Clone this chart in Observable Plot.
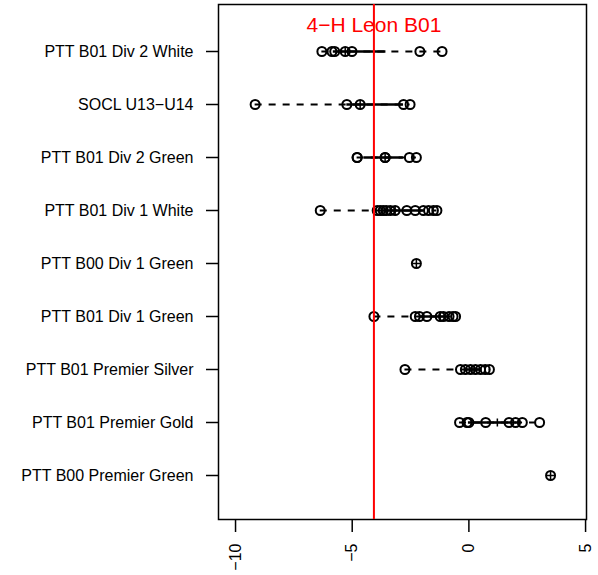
<!DOCTYPE html>
<html><head><meta charset="utf-8">
<script src="https://cdn.jsdelivr.net/npm/d3@7"></script>
<script src="https://cdn.jsdelivr.net/npm/@observablehq/plot@0.6"></script>
<style>
body{margin:0;background:#fff}
svg{font-family:"Liberation Sans",Arial,Helvetica,sans-serif}
</style>
</head><body><div id="chart"></div>
<script>
// Categories (top to bottom)
const categories = [
  "PTT B01 Div 2 White",
  "SOCL U13\u2212U14",
  "PTT B01 Div 2 Green",
  "PTT B01 Div 1 White",
  "PTT B00 Div 1 Green",
  "PTT B01 Div 1 Green",
  "PTT B01 Premier Silver",
  "PTT B01 Premier Gold",
  "PTT B00 Premier Green"
];
// Ratings per team group
const div2White = [-6.30, -5.87, -5.75, -5.30, -5.01, -2.10, -1.15];
const soclU13U14 = [-9.16, -5.23, -4.66, -2.80, -2.52];
const div2Green = [-4.79, -4.79, -3.59, -3.59, -2.55, -2.25];
const div1White = [-6.37, -3.93, -3.80, -3.67, -3.54, -3.37, -3.16, -2.66, -2.30, -1.95, -1.73, -1.52, -1.37];
const b00Div1Green = [-2.25];
const div1Green = [-4.07, -2.30, -2.12, -1.80, -1.23, -1.09, -0.85, -0.68, -0.57];
const premierSilver = [-2.74, -0.36, -0.15, 0.07, 0.28, 0.50, 0.70, 0.88];
const premierGold = [-0.40, -0.08, 0.00, 0.72, 1.72, 2.00, 2.29, 3.03];
const b00PremierGreen = [3.50];
const seriesValues = [div2White, soclU13U14, div2Green, div1White, b00Div1Green, div1Green, premierSilver, premierGold, b00PremierGreen];

const xTicks = [-10, -5, 0, 5];
const leonLabel = "4\u2212H Leon B01";
const leonRating = -4.07;

const points = categories.flatMap((c, i) => seriesValues[i].map(v => ({team: c, rating: v})));
const stats = categories.map((c, i) => {
  const v = seriesValues[i].slice().sort(d3.ascending);
  return {team: c, min: v[0], max: v[v.length - 1],
    q1: d3.quantile(v, 0.25), q3: d3.quantile(v, 0.75), median: d3.median(v)};
});

const plusSymbol = {
  draw(ctx, size) {
    const h = Math.sqrt(size / Math.PI);
    ctx.moveTo(-h, 0); ctx.lineTo(h, 0);
    ctx.moveTo(0, -h); ctx.lineTo(0, h);
  }
};

const W = 598, H = 575, mL = 218, mR = 12, mT = 4, mB = 56, tickLen = 13;
const frameW = W - mL - mR, frameH = H - mT - mB;

const chart = Plot.plot({
  width: W, height: H,
  marginLeft: mL, marginRight: mR, marginTop: mT, marginBottom: mB,
  style: {fontFamily: '"Liberation Sans",Arial,Helvetica,sans-serif', fontSize: "16px", background: "white", color: "black"},
  x: {domain: [-10.73, 5.04]},
  y: {type: "point", domain: categories, range: [50, 476.7], padding: 0},
  marks: [
    Plot.frame({stroke: "black", strokeWidth: 1.5}),
    Plot.axisX({ticks: xTicks, tickSize: 0, tickPadding: 24, tickRotate: -90, label: null, fontSize: 16,
      tickFormat: d => d < 0 ? "\u2212" + Math.abs(d) : String(d)}),
    Plot.axisY({tickSize: 0, tickPadding: 25, label: null, fontSize: 16}),
    // axis tick marks
    Plot.ruleX(xTicks, {x: d => d, insetTop: frameH, insetBottom: -tickLen, stroke: "black", strokeWidth: 1.5}),
    Plot.ruleY(categories, {y: d => d, insetRight: frameW, insetLeft: -(tickLen - 1), stroke: "black", strokeWidth: 1.5}),
    Plot.ruleY(stats, {y: "team", x1: "min", x2: "max", stroke: "black", strokeWidth: 2, strokeDasharray: "7,7"}),
    Plot.ruleY(stats, {y: "team", x1: "q1", x2: "q3", stroke: "black", strokeWidth: 2.5}),
    Plot.dot(points, {x: "rating", y: "team", r: 4.5, stroke: "black", strokeWidth: 2, fill: "none"}),
    Plot.dot(stats, {x: "median", y: "team", symbol: plusSymbol, r: 4, stroke: "black", strokeWidth: 1.5, fill: "none"}),
    Plot.ruleX([leonRating], {stroke: "red", strokeWidth: 2}),
    Plot.text([leonLabel], {x: [leonRating], text: d => d, frameAnchor: "top", lineAnchor: "bottom", dy: 27, fill: "red", fontSize: 21})
  ]
});
document.getElementById("chart").appendChild(chart);
</script>
</body></html>
